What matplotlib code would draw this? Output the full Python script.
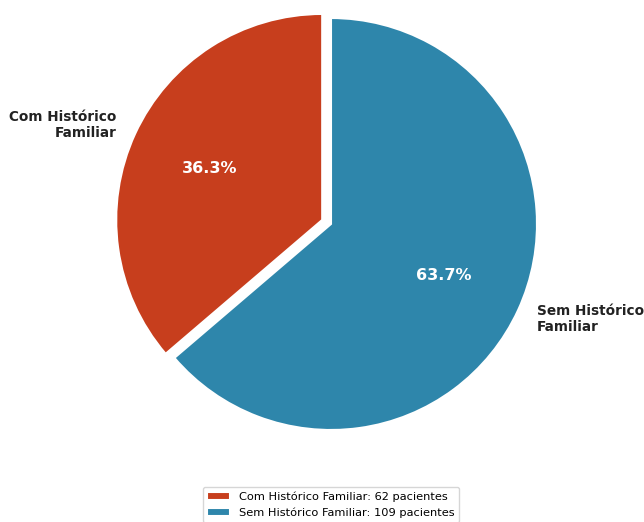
import matplotlib
matplotlib.use("Agg")
import matplotlib.pyplot as plt

categories = ["Com Histórico\nFamiliar", "Sem Histórico\nFamiliar"]
legend_names = ["Com Histórico Familiar", "Sem Histórico Familiar"]
patients = [62, 109]
colors = ["#C73E1D", "#2E86AB"]
explode = [0.047, 0.0]

W, H = 644, 522
scale = 206.0          # pixels per unit radius
cx, cy = 331, 298      # pie centre in pixels from bottom-left

fig = plt.figure(figsize=(W / 100, H / 100), dpi=100)
ax = fig.add_axes([0, 0, 1, 1])

wedges, texts, autotexts = ax.pie(
    patients,
    labels=categories,
    colors=colors,
    explode=explode,
    startangle=90,
    autopct="%1.1f%%",
    wedgeprops=dict(edgecolor="white", linewidth=1.5),
    textprops=dict(fontsize=9.8, fontweight="bold", color="#222222"),
)
ax.set_xlim(-cx / scale, (W - cx) / scale)
ax.set_ylim(-cy / scale, (H - cy) / scale)
ax.set_aspect("equal")
ax.axis("off")

for t in texts:
    t.set_multialignment(t.get_horizontalalignment())

for t in autotexts:
    t.set_color("white")
    t.set_fontsize(11.5)
    t.set_fontweight("bold")

ax.legend(
    wedges,
    [f"{n}: {v} pacientes" for n, v in zip(legend_names, patients)],
    loc="upper center",
    bbox_to_anchor=(331 / W, 1 - 481 / H),
    bbox_transform=fig.transFigure,
    fontsize=8.2,
    frameon=True,
)

fig.savefig("out.png", dpi=100)
